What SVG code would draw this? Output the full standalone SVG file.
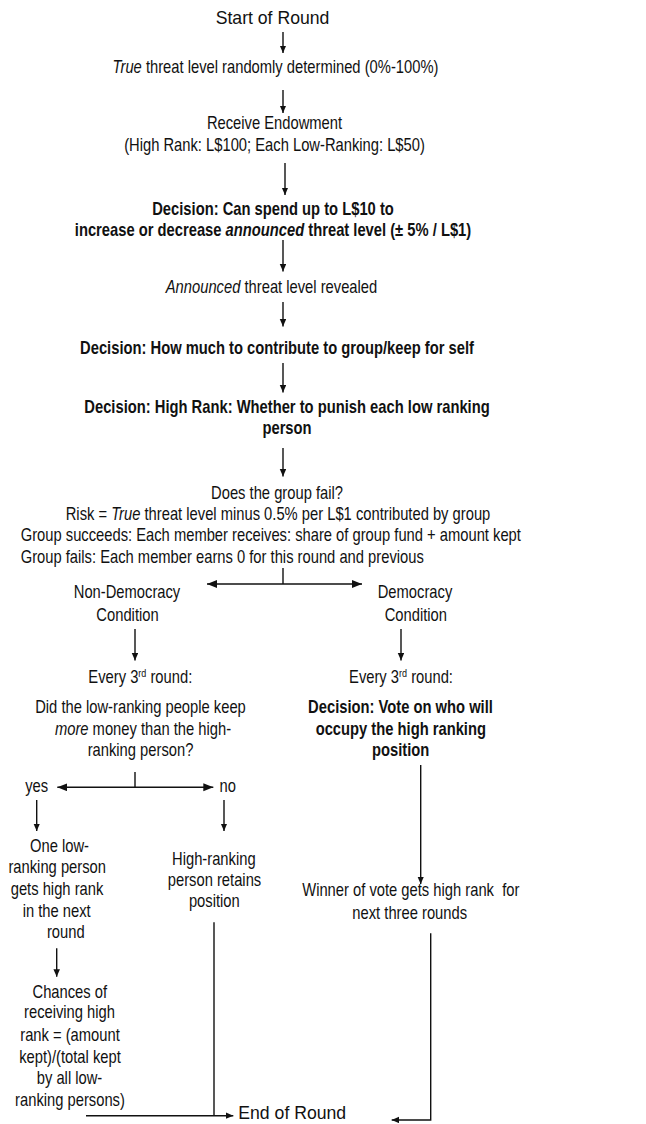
<svg xmlns="http://www.w3.org/2000/svg" width="646" height="1124" viewBox="0 0 646 1124">
<defs>
<style>
text{font-family:"Liberation Sans",Arial,sans-serif;font-size:18px;fill:#111}
.c{text-anchor:middle}
.b{font-weight:bold}
.ln{stroke:#111;stroke-width:1.4;fill:none}
.ar{marker-end:url(#ah)}
.arL{marker-end:url(#ahL)}
</style>
<marker id="ah" markerUnits="userSpaceOnUse" markerWidth="8" markerHeight="7" refX="7.5" refY="3.25" orient="auto">
<path d="M0,0 L7.5,3.25 L0,6.5 z" fill="#111"/>
</marker>
<marker id="ahL" markerUnits="userSpaceOnUse" markerWidth="11" markerHeight="9" refX="10" refY="4" orient="auto">
<path d="M0,0 L10,4 L0,8 z" fill="#111"/>
</marker>
</defs>
<rect width="646" height="1124" fill="#fff"/>
<g id="connectors">
<line class="ln ar" x1="283" y1="32" x2="283" y2="53"/>
<line class="ln ar" x1="283" y1="90" x2="283" y2="113"/>
<line class="ln ar" x1="285" y1="163" x2="285" y2="195"/>
<line class="ln ar" x1="283" y1="240" x2="283" y2="271.5"/>
<line class="ln ar" x1="283" y1="302" x2="283" y2="326.5"/>
<line class="ln ar" x1="283" y1="363" x2="283" y2="392.5"/>
<line class="ln ar" x1="283" y1="448" x2="283" y2="476.5"/>
<line class="ln" x1="283" y1="568" x2="283" y2="584"/>
<line class="ln arL" x1="283" y1="584" x2="207" y2="584"/>
<line class="ln arL" x1="283" y1="584" x2="362" y2="584"/>
<line class="ln ar" x1="135" y1="629" x2="135" y2="660.5"/>
<line class="ln ar" x1="401" y1="629" x2="401" y2="660.5"/>
<line class="ln" x1="135" y1="772" x2="135" y2="787.3"/>
<line class="ln arL" x1="135" y1="787.3" x2="57.3" y2="787.3"/>
<line class="ln arL" x1="135" y1="787.3" x2="213.3" y2="787.3"/>
<line class="ln ar" x1="36.7" y1="800" x2="36.7" y2="831"/>
<line class="ln ar" x1="224" y1="800" x2="224" y2="831"/>
<line class="ln ar" x1="420.7" y1="765" x2="420.7" y2="884"/>
<line class="ln ar" x1="56.7" y1="948.3" x2="56.7" y2="976.7"/>
<line class="ln" x1="214" y1="922.3" x2="214" y2="1115.7"/>
<line class="ln ar" x1="86" y1="1115.7" x2="233.3" y2="1115.7"/>
<polyline class="ln ar" points="430.7,933.3 430.7,1120 391.7,1120"/>
</g>
<g id="start"><text class="c" transform="translate(272.5,23.5) scale(0.98,1)">Start of Round</text></g>
<g id="true-threat"><text class="c" transform="translate(275.5,72.7) scale(0.82,1)"><tspan font-style="italic">True</tspan> threat level randomly determined (0%-100%)</text></g>
<g id="endowment">
<text class="c" transform="translate(274.5,129.3) scale(0.82,1)">Receive Endowment</text>
<text class="c" transform="translate(274.5,150.7) scale(0.82,1)">(High Rank: L$100; Each Low-Ranking: L$50)</text>
</g>
<g id="decision-spend">
<text class="c b" transform="translate(273,215) scale(0.82,1)">Decision: Can spend up to L$10 to</text>
<text class="c b" transform="translate(273,236) scale(0.82,1)">increase or decrease <tspan font-style="italic">announced</tspan> threat level (± 5% / L$1)</text>
</g>
<g id="announced"><text class="c" transform="translate(271.5,293.3) scale(0.82,1)"><tspan font-style="italic">Announced</tspan> threat level revealed</text></g>
<g id="decision-contribute"><text class="c b" transform="translate(277,354) scale(0.82,1)">Decision: How much to contribute to group/keep for self</text></g>
<g id="decision-punish">
<text class="c b" transform="translate(287,413.3) scale(0.82,1)">Decision: High Rank: Whether to punish each low ranking</text>
<text class="c b" transform="translate(287,434.3) scale(0.82,1)">person</text>
</g>
<g id="group-fail">
<text class="c" transform="translate(277,499.3) scale(0.82,1)">Does the group fail?</text>
<text class="c" transform="translate(278,520) scale(0.82,1)">Risk = <tspan font-style="italic">True</tspan> threat level minus 0.5% per L$1 contributed by group</text>
<text transform="translate(20.7,541) scale(0.82,1)">Group succeeds: Each member receives: share of group fund + amount kept</text>
<text transform="translate(20.7,562.7) scale(0.82,1)">Group fails: Each member earns 0 for this round and previous</text>
</g>
<g id="non-democracy">
<text class="c" transform="translate(127,598.3) scale(0.82,1)">Non-Democracy</text>
<text class="c" transform="translate(127.5,621) scale(0.82,1)">Condition</text>
</g>
<g id="democracy">
<text class="c" transform="translate(415,598.3) scale(0.82,1)">Democracy</text>
<text class="c" transform="translate(415.8,621) scale(0.82,1)">Condition</text>
</g>
<g id="nd-every3">
<text class="c" transform="translate(140.3,682.7) scale(0.82,1)">Every 3<tspan font-size="11" dy="-6">rd</tspan><tspan dy="6"> round:</tspan></text>
<text class="c" transform="translate(140.5,713.3) scale(0.82,1)">Did the low-ranking people keep</text>
<text class="c" transform="translate(143,735) scale(0.82,1)"><tspan font-style="italic">more</tspan> money than the high-</text>
<text class="c" transform="translate(140.5,756) scale(0.82,1)">ranking person?</text>
</g>
<g id="d-every3">
<text class="c" transform="translate(401,682.7) scale(0.82,1)">Every 3<tspan font-size="11" dy="-6">rd</tspan><tspan dy="6"> round:</tspan></text>
<text class="c b" transform="translate(400.5,713.3) scale(0.82,1)">Decision: Vote on who will</text>
<text class="c b" transform="translate(400.8,735) scale(0.82,1)">occupy the high ranking</text>
<text class="c b" transform="translate(400.7,756) scale(0.82,1)">position</text>
</g>
<g id="yes"><text class="c" transform="translate(36.7,791.7) scale(0.82,1)">yes</text></g>
<g id="no"><text class="c" transform="translate(227.7,791.7) scale(0.82,1)">no</text></g>
<g id="one-low">
<text class="c" transform="translate(59.5,851.7) scale(0.82,1)">One low-</text>
<text class="c" transform="translate(57.2,872.7) scale(0.82,1)">ranking person</text>
<text class="c" transform="translate(57,895) scale(0.82,1)">gets high rank</text>
<text class="c" transform="translate(56.7,916.7) scale(0.82,1)">in the next</text>
<text class="c" transform="translate(65.8,938.3) scale(0.82,1)">round</text>
</g>
<g id="retains">
<text class="c" transform="translate(213.8,865) scale(0.82,1)">High-ranking</text>
<text class="c" transform="translate(214.5,886) scale(0.82,1)">person retains</text>
<text class="c" transform="translate(214.3,906.7) scale(0.82,1)">position</text>
</g>
<g id="winner">
<text class="c" xml:space="preserve" transform="translate(410.8,896) scale(0.82,1)">Winner of vote gets high rank  for</text>
<text class="c" transform="translate(409.7,919.3) scale(0.82,1)">next three rounds</text>
</g>
<g id="chances">
<text class="c" transform="translate(69.8,998.3) scale(0.82,1)">Chances of</text>
<text class="c" transform="translate(69.5,1018.3) scale(0.82,1)">receiving high</text>
<text class="c" transform="translate(70,1040.7) scale(0.82,1)">rank = (amount</text>
<text class="c" transform="translate(70,1062.7) scale(0.82,1)">kept)/(total kept</text>
<text class="c" transform="translate(69.5,1084.3) scale(0.82,1)">by all low-</text>
<text class="c" transform="translate(70,1106) scale(0.82,1)">ranking persons)</text>
</g>
<g id="end"><text transform="translate(238.3,1119.3) scale(0.98,1)">End of Round</text></g>
</svg>
